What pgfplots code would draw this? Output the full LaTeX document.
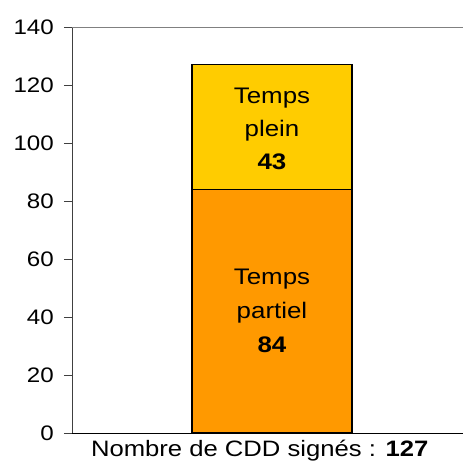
\documentclass[border=0pt]{standalone}
\usepackage{fontspec}
\setmainfont{Liberation Sans}[FakeStretch=1.15]
\usepackage{pgfplots}
\pgfplotsset{compat=1.18}
\definecolor{orangeA}{HTML}{FF9900}
\definecolor{yellowA}{HTML}{FFCC00}
\begin{document}
\begin{tikzpicture}
\begin{axis}[
  name=ax,
  at={(0,0)}, anchor=south west,
  scale only axis,
  width=391pt, height=406pt,
  xmin=-1.25, xmax=1.194,
  ymin=0, ymax=140,
  ytick={0,20,...,140},
  xtick=\empty,
  axis x line*=bottom,
  axis y line*=left,
  x axis line style={black, -},
  y axis line style={black!75, -},
  tick align=outside,
  major tick length=8pt,
  ytick style={black!75},
  yticklabel style={font=\fontsize{21}{21}\selectfont, inner sep=0pt, xshift=-10pt},
  /pgf/number format/assume math mode=true,
  ybar stacked,
  bar width=1,
  clip=false,
]
\addplot[fill=orangeA, draw=black, line width=1.4pt] coordinates {(0,84)};
\addplot[fill=yellowA, draw=black, line width=1.4pt] coordinates {(0,43)};
\draw[black!50, line width=0.8pt] (rel axis cs:0,1) -- (rel axis cs:1,1);
\coordinate (lblA) at (axis cs:0,105);
\coordinate (lblB) at (axis cs:0,42);
\node[anchor=north, inner sep=0pt, font=\fontsize{22.3}{22}\selectfont] at ([yshift=-7pt]rel axis cs:0.48,0) {Nombre de CDD signés : \textbf{127}};
\end{axis}
\node[align=center, font=\fontsize{22.5}{33}\selectfont, inner sep=0pt] at (lblA) {Temps\\plein\\\textbf{43}};
\node[align=center, font=\fontsize{22.5}{34}\selectfont, inner sep=0pt] at (lblB) {Temps\\partiel\\\textbf{84}};
\pgfresetboundingbox
\path ([xshift=-72pt,yshift=-31pt]ax.south west) rectangle ([yshift=27pt]ax.north east);
\end{tikzpicture}
\end{document}
